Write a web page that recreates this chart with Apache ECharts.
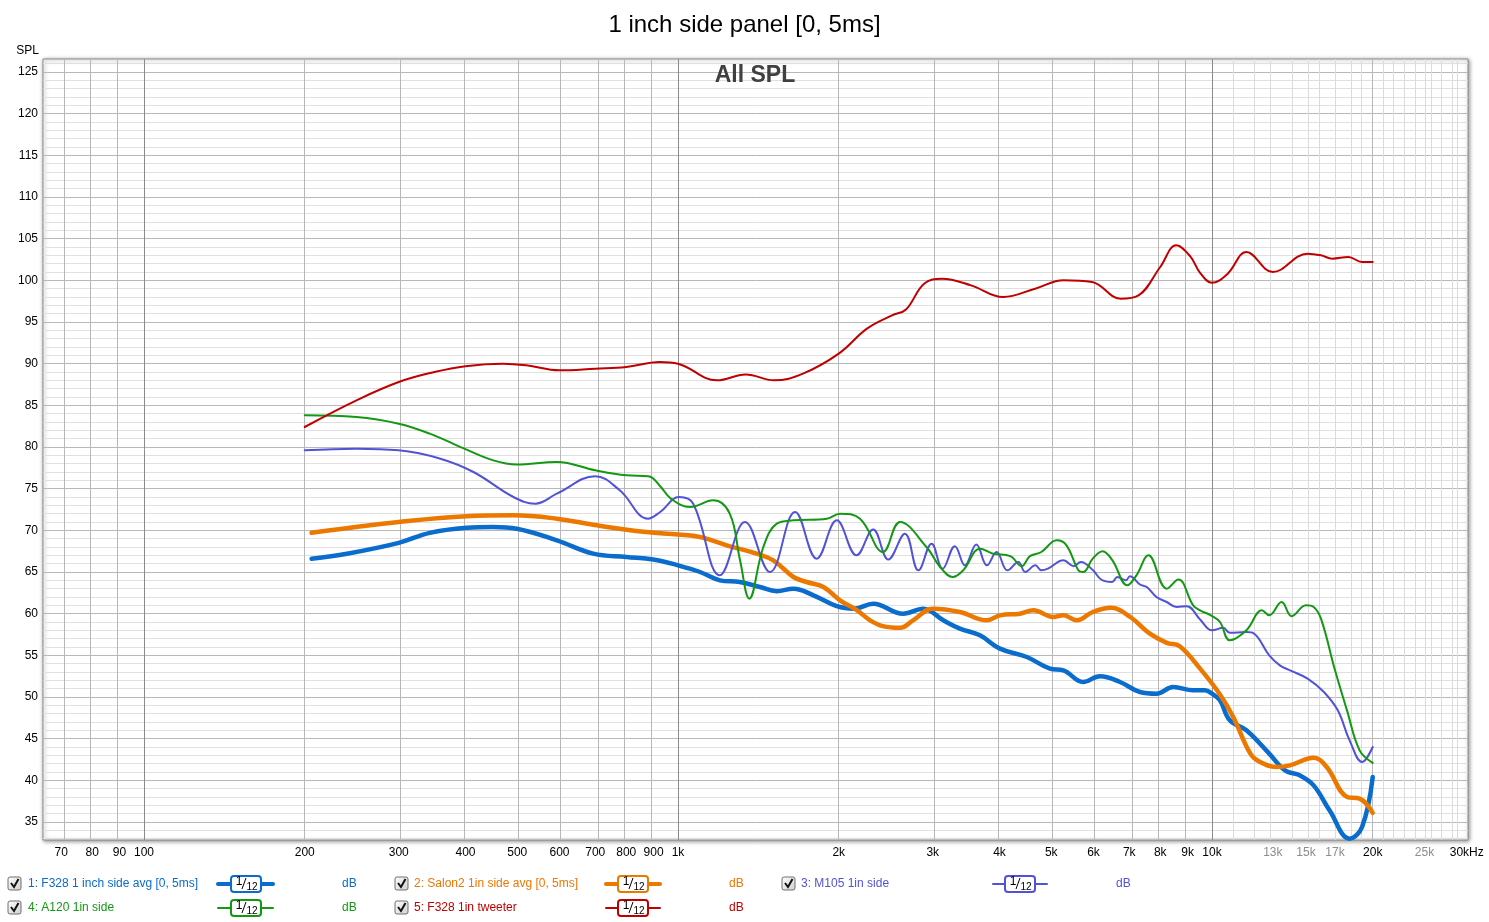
<!DOCTYPE html>
<html><head><meta charset="utf-8">
<script src="https://cdn.jsdelivr.net/npm/echarts@6/dist/echarts.min.js"></script>
<style>html,body{margin:0;padding:0;background:#fff}#c{width:1489px;height:922px}</style>
</head><body><div id="c"></div>
<script>
// ---------- data (Hz, dB) ----------
const f328SideFreq = [206,240,300,343,402,451,499,593,694,801,899,1000,1100,1198,1306,1424,1531,1645,1793,1983,2140,2320,2640,2880,3140,3373,3677,4008,4500,4974,5270,5740,6170,6726,7330,7870,8460,9220,9700,10000,10350,10800,11600,12800,13700,14600,15500,16600,18100,19100,20000];
const f328SideSpl  = [66.6,67.2,68.5,69.7,70.3,70.4,70.2,68.8,67.2,66.8,66.5,65.8,65.0,64.0,63.8,63.2,62.7,63.0,62.2,60.9,60.6,61.2,60.0,60.6,59.2,58.2,57.4,55.8,54.8,53.4,53.2,51.8,52.5,51.8,50.6,50.4,51.2,50.8,50.8,50.4,49.6,47.2,46.0,43.2,41.2,40.6,39.4,36.4,33.0,34.4,40.4];

const salon2Freq = [206,300,402,492,593,705,872,1000,1100,1234,1404,1508,1645,1742,1872,2011,2165,2290,2420,2606,2756,3000,3373,3790,4008,4370,4630,5040,5270,5580,5980,6470,7030,7650,8230,8700,9500,10350,10960,11800,12300,13200,14000,15500,16400,17900,18900,20000];
const salon2Spl  = [69.7,71.0,71.7,71.8,71.4,70.6,69.8,69.5,69.2,68.2,67.2,66.4,64.4,63.8,63.2,61.6,60.4,59.2,58.5,58.3,59.2,60.6,60.2,59.2,59.8,60.0,60.4,59.6,59.8,59.2,60.2,60.7,59.6,57.6,56.5,56.1,53.4,50.3,47.6,43.2,42.2,41.6,41.8,42.7,41.6,38.0,37.8,36.1];

const m105Freq = [200,250,300,359,414,492,540,593,700,778,879,926,1005,1068,1198,1335,1487,1657,1819,1983,2160,2320,2477,2660,2820,2985,3130,3300,3446,3620,3790,3950,4140,4340,4470,4670,4790,4930,5270,5510,5680,5990,6200,6500,6650,6900,7020,7330,7550,7870,8230,8580,8970,9500,10000,10500,10800,11600,12000,12800,13400,14000,15100,16200,17200,18100,19100,20000];
const m105Spl  = [79.6,79.8,79.6,78.6,77.0,74.0,73.2,74.4,76.5,74.8,71.4,72.2,74.0,73.2,64.6,71.0,65.0,72.2,66.6,71.2,67.0,70.1,66.5,69.6,65.2,68.4,65.4,68.1,65.8,68.3,65.8,67.4,65.2,66.2,65.0,65.8,65.2,65.4,66.4,65.7,66.2,65.2,64.1,63.8,64.4,64.0,64.5,63.5,63.2,62.0,61.4,60.8,60.9,59.3,58.0,58.3,57.7,57.8,57.6,55.0,53.8,53.2,52.2,50.6,48.4,44.8,42.2,44.0];

const a120Freq = [200,250,300,343,398,451,499,593,700,801,880,926,970,1053,1164,1250,1306,1360,1445,1531,1645,1900,2011,2192,2420,2606,2920,3096,3270,3420,3680,3890,4190,4400,4560,4790,5120,5340,5620,5740,5980,6240,6510,6940,7220,7600,8230,8650,9220,9500,9950,10350,10800,11600,12400,12800,13500,14100,15000,15500,16000,17000,17900,18900,20000];
const a120Spl  = [83.8,83.6,82.8,81.6,79.8,78.4,77.9,78.2,77.2,76.6,76.5,75.3,73.8,72.8,73.6,72.0,66.5,61.8,68.0,70.8,71.2,71.4,72.0,71.4,67.4,71.0,68.0,65.6,64.4,65.2,67.8,67.2,66.9,65.7,66.9,67.4,68.8,68.2,65.2,65.0,66.6,67.5,66.4,63.4,64.6,67.0,63.0,64.1,61.0,60.4,59.8,59.0,56.8,58.0,60.4,59.8,61.4,59.7,61.0,60.8,59.4,53.2,48.4,43.6,42.1];

const tweeterFreq = [200,250,300,350,400,470,520,600,700,800,925,1000,1183,1339,1513,1714,2000,2259,2517,2673,2890,3121,3539,4063,4666,5276,5960,6743,7285,8000,8570,9100,9500,10000,10700,11600,13000,15100,16000,16800,18000,19100,20000];
const tweeterSpl  = [82.4,85.6,87.8,89.0,89.7,90.0,89.8,89.2,89.4,89.6,90.2,90.0,88.0,88.7,88.0,88.8,91.2,94.2,95.8,96.5,99.6,100.2,99.4,98.0,99.0,100.0,99.8,97.8,98.2,101.6,104.2,102.9,100.9,99.7,100.8,103.4,101.0,103.2,103.0,102.6,102.8,102.2,102.2];

const seriesNames = ['1: F328 1 inch side avg [0, 5ms]','2: Salon2 1in side avg [0, 5ms]','3: M105 1in side','4: A120 1in side','5: F328 1in tweeter'];

// tick labels
const xTickLabels = [70,80,90,100,200,300,400,500,600,700,800,900,1000,2000,3000,4000,5000,6000,7000,8000,9000,10000,13000,15000,17000,20000,25000,30000];
const grayTickLabels = [13000,15000,17000,25000];
const yTickLabels = [35,40,45,50,55,60,65,70,75,80,85,90,95,100,105,110,115,120,125];

// grid line positions
const decadeLines = [100,1000,10000];
const stdVLines = [70,80,90,200,300,400,500,600,700,800,900,2000,3000,4000,5000,6000,7000,8000,9000,20000];
const fineVLines = [11000,12000,13000,14000,15000,16000,17000,18000,19000,21000,22000,23000,24000,25000,26000,27000,28000,29000];

// ---------- build ----------
const LOG = Math.log10;
const FONT = '"Liberation Sans", Arial, sans-serif';
const seriesDefs = [
  {freq:f328SideFreq, spl:f328SideSpl, color:'#0a6ccc', width:4.5},
  {freq:salon2Freq,   spl:salon2Spl,   color:'#ec7800', width:4.5},
  {freq:m105Freq,     spl:m105Spl,     color:'#5252d6', width:2},
  {freq:a120Freq,     spl:a120Spl,     color:'#129812', width:2},
  {freq:tweeterFreq,  spl:tweeterSpl,  color:'#c00000', width:2}
];

const gridLines = [];
for (let v = 33; v <= 126; v++) if (v % 5) gridLines.push({yAxis:v, lineStyle:{color:'#e0e0e0', width:1, type:'solid'}});
for (let v = 35; v <= 125; v += 5) gridLines.push({yAxis:v, lineStyle:{color:'#b8b8b8', width:1, type:'solid'}});
fineVLines.forEach(f => gridLines.push({xAxis:LOG(f), lineStyle:{color:'#dcdcdc', width:1, type:'solid'}}));
stdVLines.forEach(f => gridLines.push({xAxis:LOG(f), lineStyle:{color:'#b8b8b8', width:1, type:'solid'}}));
decadeLines.forEach(f => gridLines.push({xAxis:LOG(f), lineStyle:{color:'#8a8a8a', width:1, type:'solid'}}));

function fmtHz(v){
  const f = Math.round(Math.pow(10, v));
  let s = f >= 1000 ? (f/1000) + 'k' : String(f);
  if (f === 30000) s = '30kHz';
  return grayTickLabels.includes(f) ? '{g|' + s + '}' : s;
}

const series = [{
  type:'line', data:[], z:1, silent:true,
  markLine:{silent:true, z:1, symbol:['none','none'], animation:false, label:{show:false},
    emphasis:{disabled:true}, lineStyle:{type:'solid', width:1}, data:gridLines}
}];
seriesDefs.forEach((d, i) => {
  series.push({
    name: seriesNames[i], type:'line', z:10 + i,
    data: d.freq.map((f, k) => [LOG(f), d.spl[k]]),
    showSymbol:false, smooth:0.4, clip:true,
    lineStyle:{color:d.color, width:d.width, cap:'round', join:'round'},
    itemStyle:{color:d.color}, emphasis:{disabled:true}
  });
});

// legend graphics
const legendSlots = [
  {cb:8,   tx:28,  l0:218, l1:273, bx:231,  db:342},
  {cb:395, tx:414, l0:606, l1:660, bx:618,  db:729},
  {cb:782, tx:801, l0:993, l1:1047, bx:1005, db:1116}
];
const legendRows = [884, 908];
const legendPlace = [[0,0],[0,1],[0,2],[1,0],[1,1]];
const graphics = [];
legendPlace.forEach((p, i) => {
  const s = legendSlots[p[1]], ry = legendRows[p[0]], d = seriesDefs[i];
  graphics.push(
    {type:'rect', shape:{x:s.cb, y:ry-7, width:13, height:13, r:2},
     style:{fill:new echarts.graphic.LinearGradient(0,0,1,1,[{offset:0,color:'#ffffff'},{offset:1,color:'#cfcfcf'}]), stroke:'#707070', lineWidth:1}},
    {type:'polyline', shape:{points:[[s.cb+3,ry-1],[s.cb+6,ry+3],[s.cb+10.5,ry-5]]}, style:{stroke:'#111', lineWidth:2, fill:null}},
    {type:'text', x:s.tx, y:ry, style:{text:seriesNames[i], fill:d.color, font:'12px ' + FONT, verticalAlign:'middle'}},
    {type:'line', shape:{x1:s.l0, y1:ry, x2:s.l1, y2:ry}, style:{stroke:d.color, lineWidth:d.width > 3 ? 4 : 2, lineCap:'round'}},
    {type:'rect', shape:{x:s.bx, y:ry-8, width:30, height:16, r:3}, style:{fill:'#fff', stroke:d.color, lineWidth:2}},
    {type:'text', x:s.bx+8, y:ry-2, style:{text:'1', fill:'#000', font:'12px ' + FONT, align:'center', verticalAlign:'middle'}},
    {type:'line', shape:{x1:s.bx+11, y1:ry+5, x2:s.bx+15, y2:ry-6}, style:{stroke:'#000', lineWidth:1}},
    {type:'text', x:s.bx+21, y:ry+3, style:{text:'12', fill:'#000', font:'10px ' + FONT, align:'center', verticalAlign:'middle'}},
    {type:'text', x:s.db, y:ry, style:{text:'dB', fill:d.color, font:'12px ' + FONT, verticalAlign:'middle'}}
  );
});
graphics.push({type:'text', x:755, y:76, z:10, style:{text:'All SPL', fill:'#404040', font:'bold 23px ' + FONT, align:'center', verticalAlign:'middle'}});

const chart = echarts.init(document.getElementById('c'), null, {renderer:'canvas'});
chart.setOption({
  animation:false,
  backgroundColor:'#ffffff',
  title:{text:'1 inch side panel [0, 5ms]', left:'center', top:8,
    textStyle:{fontSize:24, fontWeight:'normal', color:'#000', fontFamily:FONT}},
  grid:{left:43, top:59, width:1425, height:781, show:true, backgroundColor:'#fff',
    borderColor:'#8c8c8c', borderWidth:1, shadowColor:'rgba(0,0,0,0.45)', shadowBlur:4,
    shadowOffsetX:1, shadowOffsetY:1, containLabel:false, outerBoundsMode:'none'},
  xAxis:{type:'value', min:LOG(64.7), max:LOG(30160),
    axisLine:{show:false}, axisTick:{show:false}, splitLine:{show:false},
    axisLabel:{customValues:xTickLabels.map(LOG), formatter:fmtHz, margin:7, fontSize:12,
      color:'#000', fontFamily:FONT, hideOverlap:false,
      rich:{g:{color:'#8c8c8c', fontSize:12, fontFamily:FONT}}}},
  yAxis:{type:'value', min:32.84, max:126.56, name:'SPL', nameLocation:'end', nameGap:2,
    nameTextStyle:{align:'right', verticalAlign:'bottom', fontSize:12, color:'#000', fontFamily:FONT, padding:[0,4,0,0]},
    axisLine:{show:false}, axisTick:{show:false}, splitLine:{show:false},
    axisLabel:{customValues:yTickLabels, margin:5, fontSize:12, color:'#000', fontFamily:FONT}},
  graphic:graphics,
  series:series
});
</script></body></html>
